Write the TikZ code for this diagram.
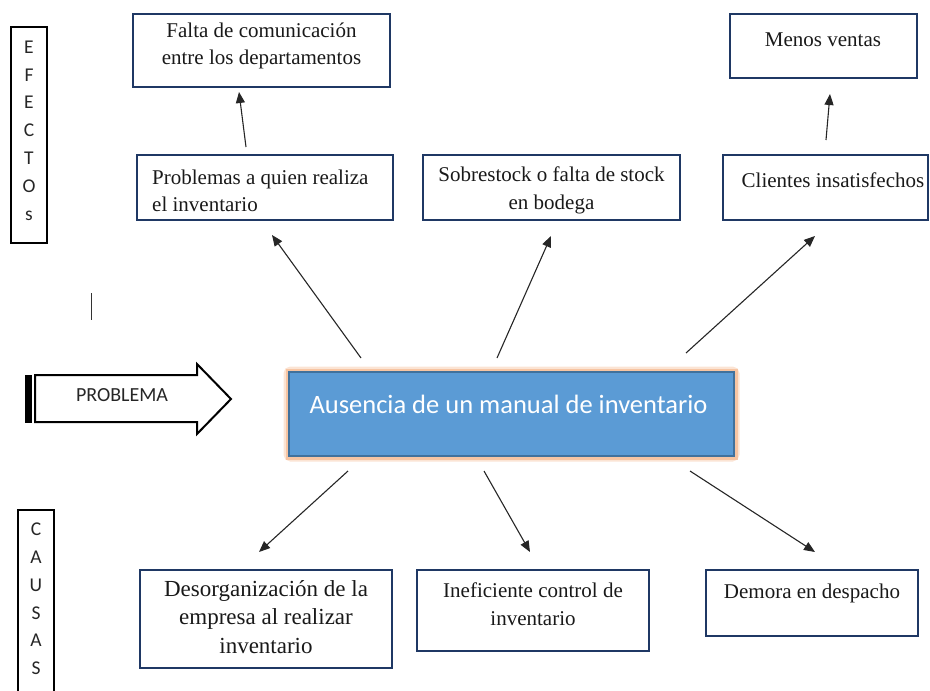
\documentclass[tikz,border=0pt]{standalone}
\usepackage{fontspec}
\setmainfont{Liberation Serif}
\newfontfamily\calibri{Carlito}
\usetikzlibrary{arrows.meta,backgrounds}
\definecolor{navy}{HTML}{1F3864}
\definecolor{fillblue}{HTML}{5B9BD5}
\definecolor{edgeblue}{HTML}{41719C}
\definecolor{glow}{HTML}{F4B183}

\begin{document}
\begin{tikzpicture}[x=1pt,y=-1pt,
  box/.style={draw=navy, line width=2pt, rectangle, inner sep=0pt},
  boxtext/.style={font=\fontsize{21}{27.5}\selectfont, inner sep=0pt, text=black!90},
  sidebox/.style={draw=black, line width=2pt, rectangle, inner sep=0pt},
  sideletters/.style={font=\calibri\fontsize{19.5}{27.8}\selectfont, align=center, inner sep=0pt, text=black!85},
  link/.style={-{Triangle[length=11pt,width=9pt]}, line width=1.1pt, black!85}
]
\useasboundingbox (0,0) rectangle (930,691);

% ---------- side labels ----------
\node[sidebox, minimum width=36pt, minimum height=216pt] (efectos) at (29,135) {};
\node[sideletters] (efectos-t) at (29,130.5) {E\\F\\E\\C\\T\\O\\s};

\draw[black, line width=2pt] (18,695) -- (18,510) -- (54,510) -- (54,695);
\node[sideletters] (causas-t) at (36,599) {C\\A\\U\\S\\A\\S};

\draw[black!80, line width=1pt] (91,293) -- (91,320);

% ---------- PROBLEMA block arrow ----------
\filldraw[black] (25,375) rectangle (31,422);
\draw[black, line width=2pt, line join=miter]
  (35,375) -- (197,375) -- (197,364) -- (231,399) -- (197,434) -- (197,422) -- (35,422) -- cycle;
\node[font=\calibri\fontsize{20}{20}\selectfont, inner sep=0pt, text=black!85] (problema-t) at (122,395) {PROBLEMA};

% ---------- central problem ----------
\node[draw=edgeblue, fill=fillblue, line width=2pt, minimum width=445pt, minimum height=84pt, inner sep=0pt]
  (problem) at (511.5,414) {};
\begin{scope}[on background layer]
  \draw[glow, line width=9pt, opacity=0.35, rounded corners=3pt] (problem.north west) rectangle (problem.south east);
  \draw[glow, line width=5pt, opacity=0.6] (problem.north west) rectangle (problem.south east);
\end{scope}
\node[font=\calibri\fontsize{26.5}{30}\selectfont, text=white, inner sep=0pt] (problem-t) at (508.5,404) {Ausencia de un manual de inventario};

% ---------- effects ----------
\node[box, minimum width=257pt, minimum height=73pt] (falta) at (261.5,50.5) {};
\node[boxtext, align=center] (falta-t) at (261.5,46) {Falta de comunicación\\entre los departamentos};

\node[box, minimum width=187pt, minimum height=64pt] (menos) at (823.5,46) {};
\node[boxtext] (menos-t) at (823,40) {Menos ventas};

\node[box, minimum width=256pt, minimum height=65pt] (quien) at (265,187.5) {};
\node[boxtext, align=left, anchor=west] (quien-t) at (152,191) {Problemas a quien realiza\\el inventario};

\node[box, minimum width=257pt, minimum height=65pt] (stock) at (551.5,187.5) {};
\node[boxtext, align=center] (stock-t) at (551.5,190.5) {Sobrestock o falta de stock\\en bodega};

\node[box, minimum width=205pt, minimum height=65pt] (clientes) at (825.5,187.5) {};
\node[boxtext] (clientes-t) at (833,180) {Clientes insatisfechos};

% ---------- causes ----------
\node[box, minimum width=252pt, minimum height=98pt] (desorg) at (266,619) {};
\node[boxtext, font=\fontsize{23}{28.5}\selectfont, align=center] (desorg-t) at (266,617) {Desorganización de la\\empresa al realizar\\inventario};

\node[box, minimum width=232pt, minimum height=81pt] (control) at (533,610.5) {};
\node[boxtext, align=center] (control-t) at (533,604) {Ineficiente control de\\inventario};

\node[box, minimum width=212pt, minimum height=66pt] (demora) at (812,603) {};
\node[boxtext] (demora-t) at (812,593) {Demora en despacho};

% ---------- connector end points ----------
\coordinate (q-from) at (361,358);  \coordinate (q-to) at (272,235);
\coordinate (s-from) at (497,358);  \coordinate (s-to) at (551,236);
\coordinate (c-from) at (686,353);  \coordinate (c-to) at (815,236);
\coordinate (f-from) at (246,147);  \coordinate (f-to) at (239,92);
\coordinate (m-from) at (826,140);  \coordinate (m-to) at (830,94);
\coordinate (d-from) at (348,471);  \coordinate (d-to) at (259,552);
\coordinate (i-from) at (484,471);  \coordinate (i-to) at (530,552);
\coordinate (r-from) at (690,471);  \coordinate (r-to) at (815,552);

\draw[link] (q-from) -- (q-to);
\draw[link] (s-from) -- (s-to);
\draw[link] (c-from) -- (c-to);
\draw[link] (f-from) -- (f-to);
\draw[link] (m-from) -- (m-to);
\draw[link] (d-from) -- (d-to);
\draw[link] (i-from) -- (i-to);
\draw[link] (r-from) -- (r-to);
\end{tikzpicture}
\end{document}
